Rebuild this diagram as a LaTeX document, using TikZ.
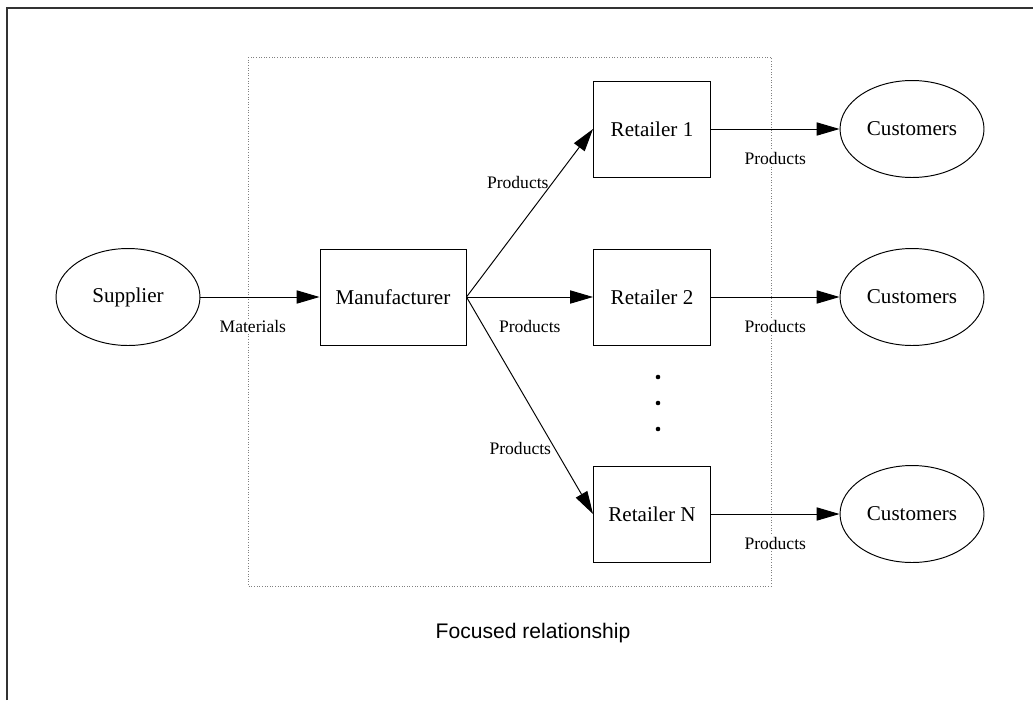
\documentclass[tikz,border=0pt]{standalone}
\usepackage{fontspec}
\setmainfont{Liberation Serif}
\newfontfamily\capfont{Liberation Sans}
\usepackage{tikz}
\usetikzlibrary{shapes,arrows.meta,calc,positioning}
\tikzstyle{supply}=[
  x=0.02cm,y=-0.02cm,>={Triangle[length=13pt,width=7.5pt]},line width=0.55pt,
  font=\fontsize{12}{14}\selectfont
]
\tikzstyle{party}=[
  draw,ellipse,inner sep=0pt,minimum width=2.88cm,minimum height=1.94cm
]
\tikzstyle{firm}=[
  draw,rectangle,inner sep=0pt,minimum width=2.34cm,minimum height=1.92cm
]
\tikzstyle{flow}=[
  ->
]
\tikzstyle{flowlabel}=[
  fill=white,inner sep=1pt,font=\fontsize{10}{12}\selectfont
]
\tikzset{
  focus/.style={draw=gray,line width=0.5pt,densely dotted},
  border/.style={draw=black!80,line width=0.9pt},
}

\begin{document}
\begin{tikzpicture}[supply]
          \def\lvl{168}
          \def\gap{260}
          \useasboundingbox (0,0) rectangle (1033,700);
            \draw [border] (7,700) -- (7,8) -- (1033,8);
            \draw [focus] (248,57) rectangle (771,586);

            \node (sup) at (128,297) [party] {Supplier};
            \node (man) at ($(sup) + (265,0)$) [firm,minimum width=2.92cm] {Manufacturer};
            \node (r2) at ($(man) + (259,0)$) [firm] {Retailer 2};
            \node (r1) at ($(r2) + (0,-\lvl)$) [firm] {Retailer 1};
            \node (rN) at ($(r2) + (0,217)$) [firm] {Retailer N};
            \node (c1) at ($(r1) + (\gap,0)$) [party] {Customers};
            \node (c2) at ($(r2) + (\gap,0)$) [party] {Customers};
            \node (cN) at ($(rN) + (\gap,0)$) [party] {Customers};
            \foreach \d in {80,106,132}
              \fill ($(r2) + (6,\d)$) circle (1.3pt);
            \node (cap) at (533,633) [font=\capfont\fontsize{12}{14}\selectfont] {Focused relationship};

            \draw [flow] (sup) -- node [flowlabel,below=12pt,pos=0.44] (mat) {Materials} (man);
            \draw [flow] (man.east) -- node [flowlabel,fill=none,left=1pt,pos=0.68] (p1) {Products} (r1.west);
            \draw [flow] (man.east) -- node [flowlabel,below=12pt] (p2) {Products} (r2.west);
            \draw [flow] (man.east) -- node [flowlabel,fill=none,left=1pt,pos=0.7] (pN) {Products} (rN.west);
            \foreach \i in {1,2,N}
              \draw [flow] (r\i) -- node [flowlabel,below=12pt] (q\i) {Products} (c\i);
        \end{tikzpicture}
\end{document}
